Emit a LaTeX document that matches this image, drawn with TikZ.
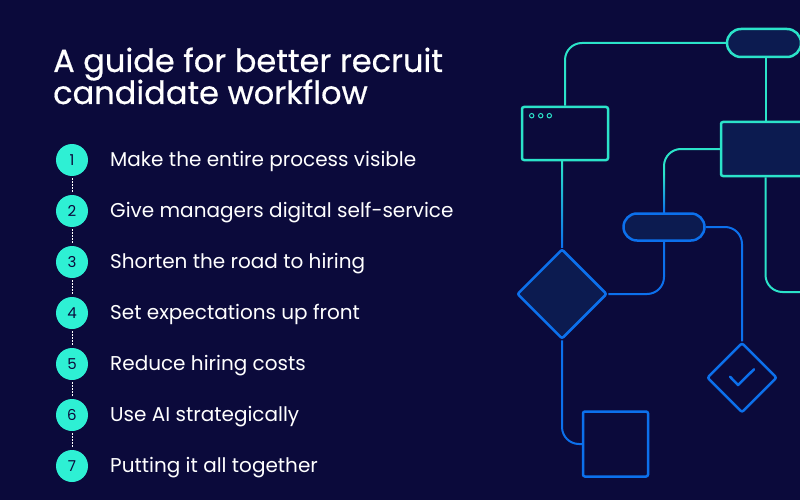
\documentclass[tikz,border=0pt]{standalone}
\usepackage{fontspec}
\setmainfont{Poppins}
\newfontfamily\headfont[FakeBold=0.5]{Poppins}
\usepackage{tikz}
\usetikzlibrary{shapes,calc,positioning}
\definecolor{navyBg}{RGB}{11,10,59}
\definecolor{navyFill}{RGB}{12,27,80}
\definecolor{mint}{RGB}{46,240,212}
\definecolor{tealLine}{RGB}{43,227,201}
\definecolor{blueLine}{RGB}{12,112,236}
\tikzstyle{head} =[anchor=base west, inner sep=0pt, text=white,
                   font=\headfont\fontsize{32}{32}\selectfont]
\tikzstyle{num}  =[circle, fill=mint, minimum size=32pt, inner sep=0pt,
                   text=navyBg, font=\fontsize{15}{15}\selectfont]
\tikzstyle{item} =[anchor=base west, inner sep=0pt, text=white,
                   font=\fontsize{20}{20}\selectfont]
\tikzstyle{dots} =[white, line width=1pt, dash pattern=on 1.5pt off 1.5pt,
                   shorten <=2pt, shorten >=2pt]
\tikzstyle{tline}=[tealLine, line width=2pt, rounded corners=17pt]
\tikzstyle{bline}=[blueLine, line width=2pt, rounded corners=17pt]
\tikzstyle{tbox} =[rectangle, draw=tealLine, line width=2.5pt,
                   rounded corners=2pt, inner sep=0pt]
\tikzstyle{bbox} =[draw=blueLine, line width=2.5pt,
                   rounded corners=2pt, inner sep=0pt]

\begin{document}
\begin{tikzpicture}[x=1pt,y=-1pt]

    \useasboundingbox (0,0) rectangle (800,500);
    \fill[navyBg] (0,0) rectangle (800,500);

    % title
    \draw (53,72) node (title1) [head] {A guide for better recruit};
    \draw (53,104) node (title2) [head] {candidate workflow};

    % steps
    \foreach \i/\t in {1/Make the entire process visible,
                       2/Give managers digital self-service,
                       3/Shorten the road to hiring,
                       4/Set expectations up front,
                       5/Reduce hiring costs,
                       6/Use AI strategically,
                       7/Putting it all together}
    {
        \draw (72,{109+51*\i}) node (c\i) [num] {\i};
        \draw (110,{115+51*\i}) node (t\i) [item] {\t};
    }
    \foreach \i/\j in {1/2,2/3,3/4,4/5,5/6,6/7}
        \draw [dots] (c\i) to (c\j);

    % flow chart
    \draw (764,43) node (tpill) [tbox, fill=navyFill, rounded corners=14pt,
        minimum width=74pt, minimum height=28pt] {};
    \draw (765.5,149) node (bigbox) [tbox, fill=navyFill,
        minimum width=89pt, minimum height=54pt] {};
    \draw (565,133.5) node (win) [tbox, minimum width=86pt, minimum height=53pt] {};
    \draw (664,227) node (bpill) [bbox, rectangle, fill=navyFill, rounded corners=13.5pt,
        minimum width=81pt, minimum height=27pt] {};
    \draw (562,294) node (dec) [bbox, diamond, fill=navyFill, aspect=1,
        minimum width=90pt, minimum height=90pt] {};
    \draw (742,377.7) node (chk) [bbox, diamond, aspect=1,
        minimum width=70pt, minimum height=70pt] {};
    \draw (615.5,444) node (sq) [bbox, rectangle,
        minimum width=65pt, minimum height=65pt] {};

    \foreach \dx in {-33.3,-24.3,-15.7}
        \draw [tealLine, line width=1pt] ($(win)+(\dx,-17.8)$) circle (2.2pt);
    \draw [blueLine, line width=2.5pt, line cap=round, line join=round]
        ($(chk)+(-12,-1)$) -- ($(chk)+(-4,7.3)$) -- ($(chk)+(12,-8.4)$);

    \coordinate (bend) at ($(bigbox.west -| bpill.north)+(0,25)$);
    \coordinate (exit) at (806,292);

    \draw [tline] (tpill.west) -| (win.north);
    \draw [tline] (tpill.south -| bigbox.north) -- (bigbox.north);
    \draw [tline] (bigbox.west) -| (bend);
    \draw [tline] (bigbox.south) |- (exit);
    \shade [top color=tealLine, bottom color=blueLine]
        ($(win.south -| dec.north)+(-1,0)$) rectangle ($(dec.north)+(1,0)$);
    \shade [top color=tealLine, bottom color=blueLine]
        ($(bend)+(-1,0)$) rectangle ($(bpill.north)+(1,0)$);

    \draw [bline] (bpill.south) |- (dec.east);
    \draw [bline] (bpill.east) -| (chk.north);
    \draw [bline] (dec.south) |- (sq.west);

\end{tikzpicture}
\end{document}
